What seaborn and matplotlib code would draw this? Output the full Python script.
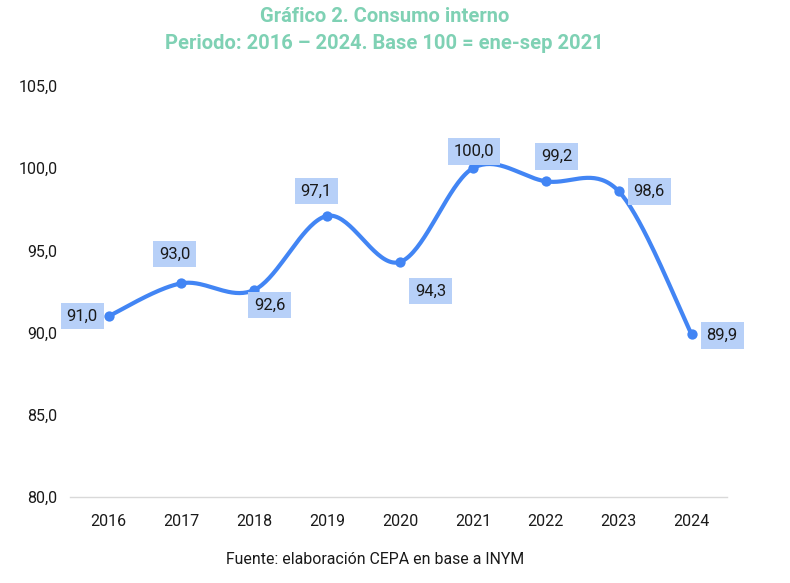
import numpy as np
import pandas as pd
import matplotlib
matplotlib.use("Agg")
import matplotlib.pyplot as plt
import seaborn as sns

years = [2016, 2017, 2018, 2019, 2020, 2021, 2022, 2023, 2024]
consumo = [91.0, 93.0, 92.6, 97.1, 94.3, 100.0, 99.2, 98.6, 89.9]
y_ticks = [80, 85, 90, 95, 100, 105]

# label offsets (points) relative to each marker
label_offsets = [(-19, 0), (-5, 21), (11, -11), (-8, 18), (22, -21), (1, 12), (8, 18), (22, 0), (22, -1)]

LINE = "#4285f4"
BOX = "#b7d0f8"
TITLE = "#7fd1b4"

sns.set_theme(style="white")
plt.rcParams["font.family"] = ["Roboto", "DejaVu Sans"]

df = pd.DataFrame({"year": years, "consumo": consumo})


def smooth_path(x, y, n=40):
    # Catmull-Rom style bezier segments, like spreadsheet "smoothed line"
    x = np.asarray(x, float)
    y = np.asarray(y, float)
    px = np.concatenate([[x[0]], x, [x[-1]]])
    py = np.concatenate([[y[0]], y, [y[-1]]])
    xs, ys = [], []
    t = np.linspace(0, 1, n)
    for i in range(1, len(px) - 2):
        p0 = np.array([px[i], py[i]])
        p3 = np.array([px[i + 1], py[i + 1]])
        c1 = p0 + (np.array([px[i + 1], py[i + 1]]) - np.array([px[i - 1], py[i - 1]])) / 6
        c2 = p3 - (np.array([px[i + 2], py[i + 2]]) - np.array([px[i], py[i]])) / 6
        b = ((1 - t) ** 3)[:, None] * p0 + (3 * (1 - t) ** 2 * t)[:, None] * c1 \
            + (3 * (1 - t) * t ** 2)[:, None] * c2 + (t ** 3)[:, None] * p3
        xs.append(b[:, 0])
        ys.append(b[:, 1])
    return np.concatenate(xs), np.concatenate(ys)


fig = plt.figure(figsize=(7.9, 5.83), dpi=100)
ax = fig.add_axes([0.0886, 0.1475, 0.832, 0.705])

sx, sy = smooth_path(df["year"], df["consumo"])
ax.plot(sx, sy, color=LINE, lw=3, solid_capstyle="round", zorder=2)
sns.scatterplot(data=df, x="year", y="consumo", color=LINE, s=55,
                edgecolor=LINE, linewidth=0, ax=ax, zorder=3, legend=False)

for (yr, val), (dx, dy) in zip(zip(years, consumo), label_offsets):
    ax.annotate(f"{val:.1f}".replace(".", ","), (yr, val), xytext=(dx, dy),
                textcoords="offset points", ha="center", va="center",
                fontsize=12, color="#1a1a1a", zorder=4,
                bbox=dict(boxstyle="square,pad=0.35", fc=BOX, ec="none"))

ax.set_xlim(2016 - 0.53, 2024 + 0.49)
ax.set_ylim(80, 105)
ax.set_yticks(y_ticks)
ax.set_yticklabels([f"{v:.1f}".replace(".", ",") for v in y_ticks])
ax.set_xticks(years)
ax.set_xticklabels([str(y) for y in years])
ax.tick_params(axis="both", labelsize=11.5, colors="#1a1a1a", length=0)
ax.tick_params(axis="x", pad=12)
ax.tick_params(axis="y", pad=9)
ax.set_xlabel("")
ax.set_ylabel("")
for side in ["top", "right", "left"]:
    ax.spines[side].set_visible(False)
ax.spines["bottom"].set_color("#d9d9d9")
ax.spines["bottom"].set_linewidth(1)

fig.text(0.487, 0.971, "Gráfico 2. Consumo interno", ha="center", va="center",
         fontsize=14.5, fontweight="bold", color=TITLE)
fig.text(0.487, 0.926, "Periodo: 2016 – 2024. Base 100 = ene-sep 2021", ha="center", va="center",
         fontsize=14.5, fontweight="bold", color=TITLE)
fig.text(0.475, 0.040, "Fuente: elaboración CEPA en base a INYM", ha="center", va="center",
         fontsize=11.4, color="#1a1a1a")

fig.savefig("out.png", dpi=100, facecolor="white")
